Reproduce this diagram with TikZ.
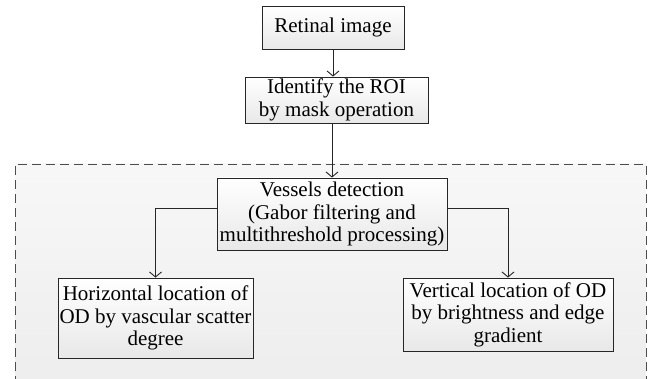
\documentclass[tikz,border=0pt]{standalone}
\usepackage{fontspec}
\setmainfont{Liberation Serif}
\usetikzlibrary{arrows.meta}

\tikzset{
  stepbox/.style={draw=black!85, line width=0.9pt, top color=white, bottom color=black!9,
    align=center, inner sep=0pt, font=\fontsize{21}{22.5}\selectfont},
  flow/.style={draw=black!85, line width=0.9pt, -{Straight Barb[length=5pt,width=12pt]}}
}

\begin{document}
\begin{tikzpicture}[x=1pt,y=-1pt]
  \useasboundingbox (0,0) rectangle (650,379);
  % dashed region
  \shade[top color=black!3, bottom color=black!7] (15,164) rectangle (646,385);
  \draw[dashed, dash pattern=on 9pt off 5pt, draw=black!70, line width=0.9pt]
    (15,385) -- (15,164) -- (646,164) -- (646,385);

  \node[stepbox, minimum width=142pt, minimum height=43pt] (retinal) at (333,27.5) {Retinal image};
  \node[stepbox, minimum width=183pt, minimum height=46pt] (roi) at (336.5,100) {Identify the ROI\\by mask operation};
  \node[stepbox, minimum width=230pt, minimum height=72pt] (vessels) at (332,214)
    {Vessels detection\\(Gabor filtering and\\multithreshold processing)};
  \node[stepbox, minimum width=195pt, minimum height=80pt] (horiz) at (155.5,318)
    {Horizontal location of\\OD by vascular scatter\\degree};
  \node[stepbox, minimum width=210pt, minimum height=73pt] (vert) at (508,314.5)
    {Vertical location of OD\\by brightness and edge\\gradient};

  \draw[flow] (retinal.south) -- (retinal.south |- roi.north);
  \draw[flow] (vessels.north |- roi.south) -- (vessels.north);
  \draw[flow] ([yshift=6pt]vessels.west) -| (horiz.north);
  \draw[flow] ([yshift=6pt]vessels.east) -| (vert.north);
\end{tikzpicture}
\end{document}
